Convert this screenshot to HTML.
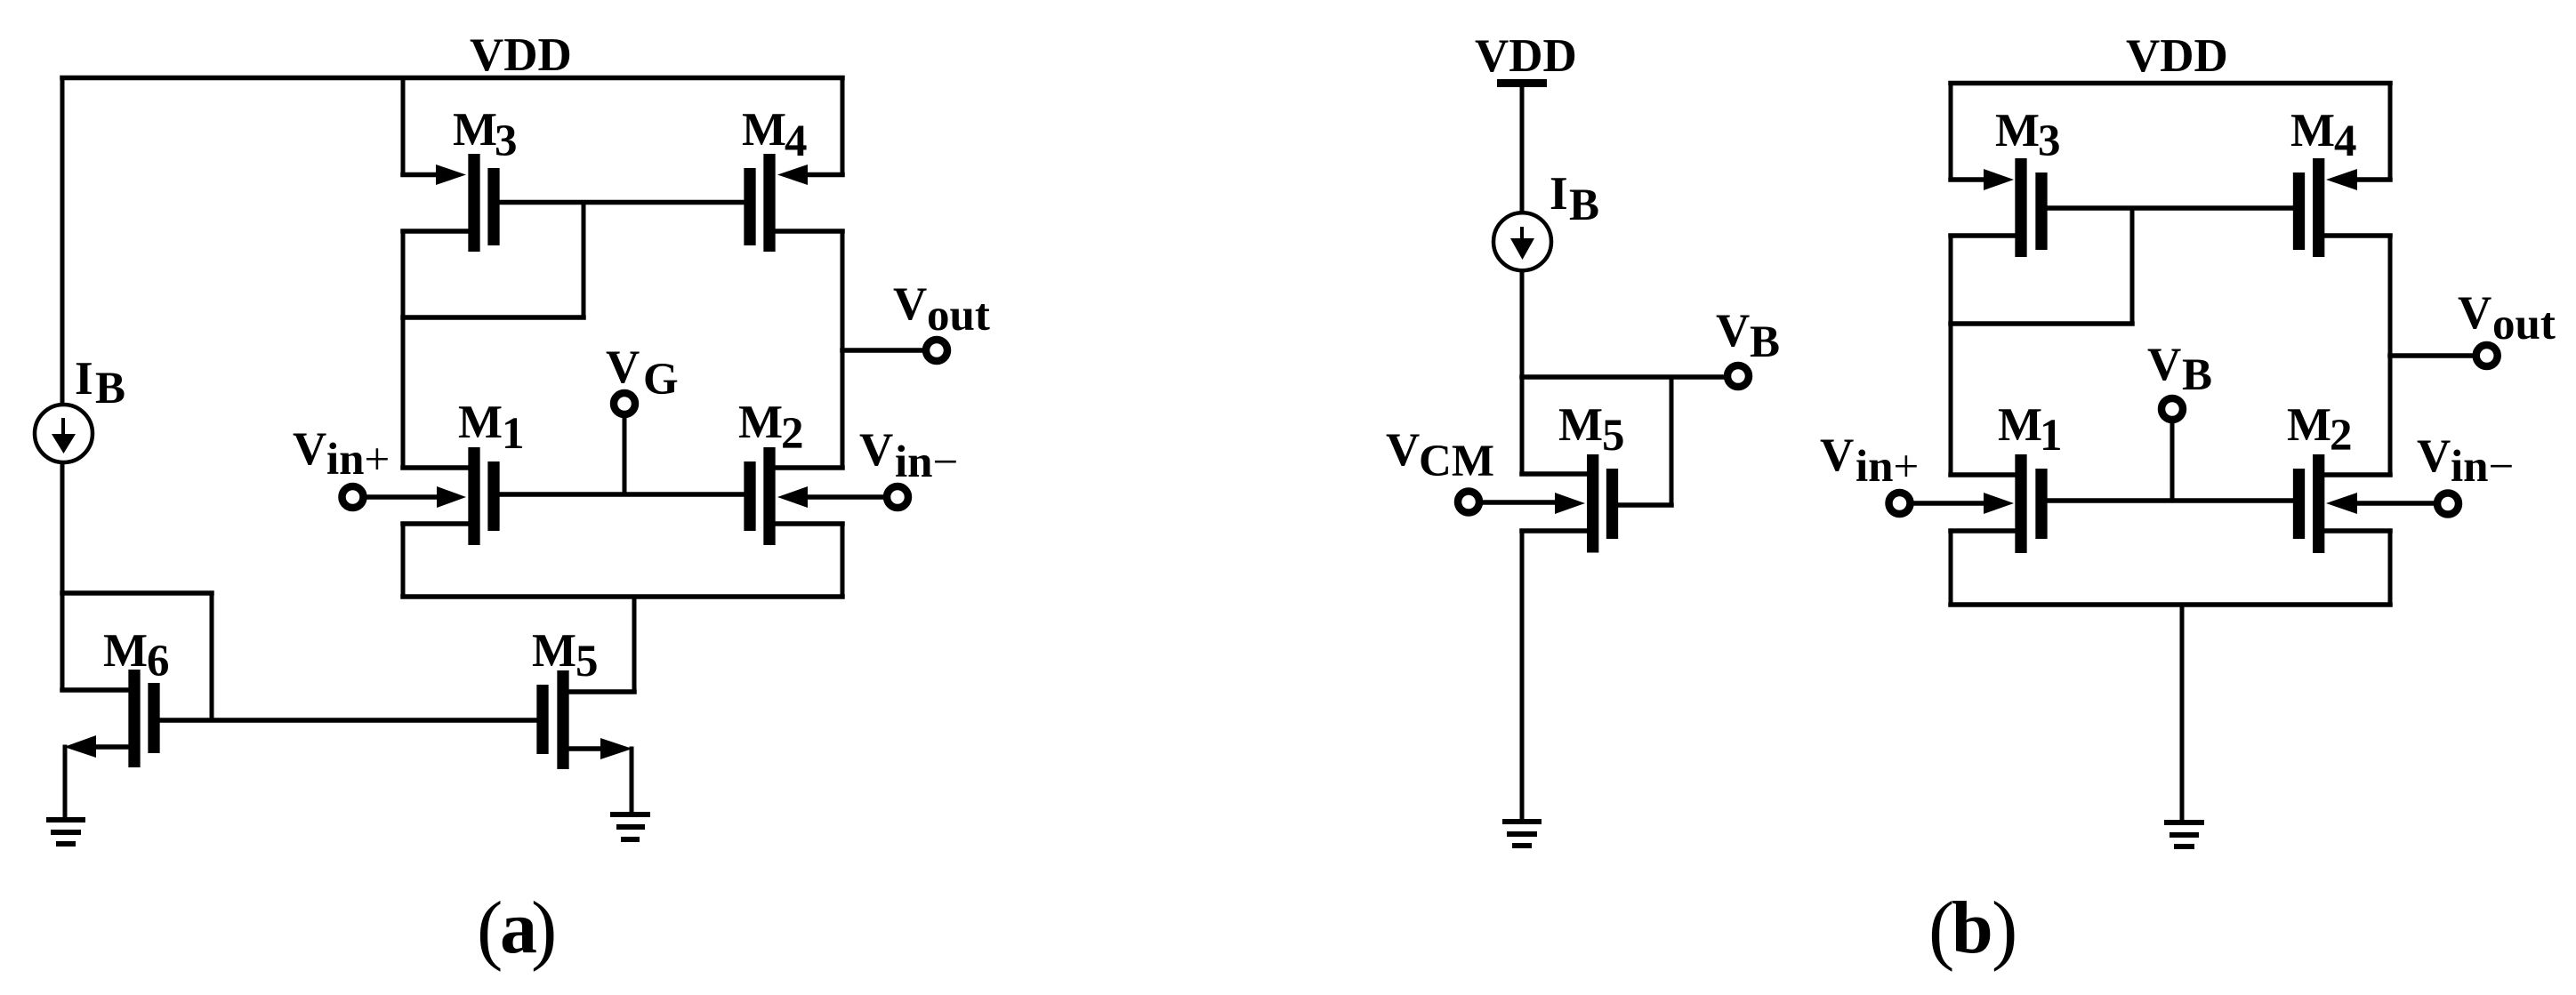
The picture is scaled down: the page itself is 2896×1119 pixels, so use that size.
<!DOCTYPE html>
<html>
<head>
<meta charset="utf-8">
<style>
html,body{margin:0;padding:0;background:#fff;width:2896px;height:1119px;overflow:hidden}
svg{display:block}
text{font-family:"Liberation Serif",serif;font-weight:bold;font-size:53px;fill:#000}
tspan.s{font-size:51px}
tspan.t{font-size:51px;font-weight:normal}
text.p{font-weight:normal;font-size:88px}
text.l{font-weight:bold;font-size:84px}
.v{stroke:#000;stroke-width:5;fill:none;stroke-linecap:square}
.h{stroke:#000;stroke-width:5.5;fill:none;stroke-linecap:square}
.b{stroke:#000;stroke-width:13.3;fill:none}
.n{stroke:#000;stroke-width:8.5;fill:#fff}
.o{stroke:#000;stroke-width:4.5;fill:#fff}
</style>
</head>
<body>
<svg width="2896" height="1119" viewBox="0 0 2896 1119" xmlns="http://www.w3.org/2000/svg">
<rect width="2896" height="1119" fill="#fff"/>

<!-- Panel a: vertical wires -->
<path class="v" d="M70 88V453M70 521V776M453 88V196M947 88V196M453 260V526M947 260V526M453 589V671M947 589V671M656 228V357M702 470V556M238 667V810M713 671V778M73 840V920M710 842V915"/>
<!-- Panel a: horizontal wires -->
<path class="h" d="M70 87.5H947M453 196.5H505M947 196.5H895M555 227.5H843M453 260H526M872 260H947M453 357H656M947 394H1038M453 526H526M872 526H947M411 559H505M994 559H895M555 556H843M453 589H526M872 589H947M453 671H947M70 667H238M70 776H144M713 778H640M178 810H608M144 840H100M640 842H685"/>
<!-- Panel a: MOS bars -->
<path class="b" d="M533 173V283M555 189V276M865 173V283M843 189V276M533 503V613M555 519V597M865 503V613M843 519V597"/>
<path class="b" d="M151 753V863M173 768V847M633 754V865M610 770V848"/>
<!-- Panel a: arrowheads -->
<polygon points="490,185 524,196.5 490,208"/>
<polygon points="908,185 874,196.5 908,208"/>
<polygon points="491,547 524,559 491,571"/>
<polygon points="908,547 874,559 908,571"/>
<polygon points="108,827 72,840 108,852"/>
<polygon points="675,830 711,842 675,854"/>
<!-- Panel a: current source -->
<circle class="o" cx="71.5" cy="487.5" r="32.5"/>
<path class="v" style="stroke-width:4" d="M71 472V495"/>
<polygon points="58,488 85,488 71.5,510"/>
<!-- Panel a: terminals -->
<circle class="n" cx="396.5" cy="559" r="12"/>
<circle class="n" cx="1009" cy="559" r="12"/>
<circle class="n" cx="702" cy="454" r="12"/>
<circle class="n" cx="1053" cy="394" r="12"/>
<!-- Panel a: grounds -->
<path class="h" style="stroke-linecap:butt;stroke-width:6" d="M52 922H96M57 936H91M63 949H85M686 916H731M693 930H725M698 944H719"/>

<!-- Panel a: labels -->
<text x="528" y="79">VDD</text>
<text x="509" y="163">M<tspan class="s" x="556" y="175">3</tspan></text>
<text x="834" y="163">M<tspan class="s" x="882" y="175">4</tspan></text>
<text x="515" y="492">M<tspan class="s" x="564" y="504">1</tspan></text>
<text x="830" y="492">M<tspan class="s" x="878" y="504">2</tspan></text>
<text x="681" y="430">V<tspan class="s" x="723" y="443">G</tspan></text>
<text x="84" y="443">I<tspan class="s" x="107" y="453">B</tspan></text>
<text x="329" y="522">V<tspan class="s" x="367" y="533">in</tspan><tspan class="t">+</tspan></text>
<text x="966" y="523">V<tspan class="s" x="1006" y="536">in</tspan><tspan class="t">−</tspan></text>
<text x="1004" y="359">V<tspan class="s" x="1042" y="371">out</tspan></text>
<text x="116" y="749">M<tspan class="s" x="165" y="760">6</tspan></text>
<text x="598" y="749">M<tspan class="s" x="647" y="760">5</tspan></text>
<text class="p" x="536" y="1074">(</text><text class="l" x="562" y="1071">a</text><text class="p" x="597" y="1074">)</text>

<!-- Panel b left -->
<path class="v" d="M1711 98V238M1711 305V533M1711 597V922M1879 424V568"/>
<path class="h" d="M1711 424H1940M1711 533H1784M1711 597H1784M1664 565H1760M1813 568H1879"/>
<path class="b" d="M1790.7 511V621.5M1812.5 527V606"/>
<rect x="1683" y="89" width="56" height="9"/>
<polygon points="1748,554 1782,566 1748,578"/>
<circle class="o" cx="1711.5" cy="271.7" r="32.5"/>
<path class="v" style="stroke-width:4" d="M1711 257V276"/>
<polygon points="1698,268 1725,268 1711.5,292"/>
<circle class="n" cx="1954" cy="423" r="12"/>
<circle class="n" cx="1651" cy="564.5" r="12"/>
<path class="h" style="stroke-linecap:butt;stroke-width:6" d="M1689 924H1733M1694 938H1728M1700 951H1722"/>

<text x="1658" y="80">VDD</text>
<text x="1742" y="235">I<tspan class="s" x="1764" y="247">B</tspan></text>
<text x="1929" y="389">V<tspan class="s" x="1967" y="401">B</tspan></text>
<text x="1752" y="495">M<tspan class="s" x="1801" y="506">5</tspan></text>
<text x="1558" y="523">V<tspan class="s" x="1595" y="535">CM</tspan></text>

<!-- Panel b right -->
<path class="v" d="M2193 94V202M2687 94V202M2193 265V534M2687 265V534M2193 597V680M2687 597V680M2397 234V364M2442 474V563M2453 680V922"/>
<path class="h" d="M2193 93.5H2687M2193 202H2240M2687 202H2640M2295 234H2585M2193 265H2266M2613 265H2687M2193 364H2397M2687 400H2782M2193 534H2266M2613 534H2687M2150 566H2240M2738 566H2640M2295 563H2585M2193 597H2266M2613 597H2687M2193 680H2687"/>
<path class="b" d="M2272 178V289M2295 194V281M2606.7 178V289M2584.5 194V281M2272 511V622M2295 527V606M2606.7 511V622M2584.5 527V606"/>
<polygon points="2230,190 2264,202 2230,214"/>
<polygon points="2650,190 2615,202 2650,214"/>
<polygon points="2230,554 2264,566 2230,578"/>
<polygon points="2650,554 2615,566 2650,578"/>
<circle class="n" cx="2795.7" cy="400" r="12"/>
<circle class="n" cx="2442" cy="460" r="12"/>
<circle class="n" cx="2135.5" cy="566" r="12"/>
<circle class="n" cx="2752" cy="566.5" r="12"/>
<path class="h" style="stroke-linecap:butt;stroke-width:6" d="M2433 925H2478M2439 939H2472M2444 952H2467"/>

<text x="2390" y="80">VDD</text>
<text x="2243" y="164">M<tspan class="s" x="2291" y="175">3</tspan></text>
<text x="2575" y="164">M<tspan class="s" x="2624" y="175">4</tspan></text>
<text x="2246" y="495">M<tspan class="s" x="2293" y="506">1</tspan></text>
<text x="2571" y="495">M<tspan class="s" x="2619" y="506">2</tspan></text>
<text x="2414" y="427">V<tspan class="s" x="2453" y="438">B</tspan></text>
<text x="2763" y="369">V<tspan class="s" x="2802" y="381">out</tspan></text>
<text x="2046" y="529">V<tspan class="s" x="2086" y="541">in</tspan><tspan class="t">+</tspan></text>
<text x="2717" y="530">V<tspan class="s" x="2755" y="541">in</tspan><tspan class="t">−</tspan></text>
<text class="p" x="2168" y="1074">(</text><text class="l" x="2194" y="1071">b</text><text class="p" x="2239" y="1074">)</text>
</svg>
</body>
</html>
